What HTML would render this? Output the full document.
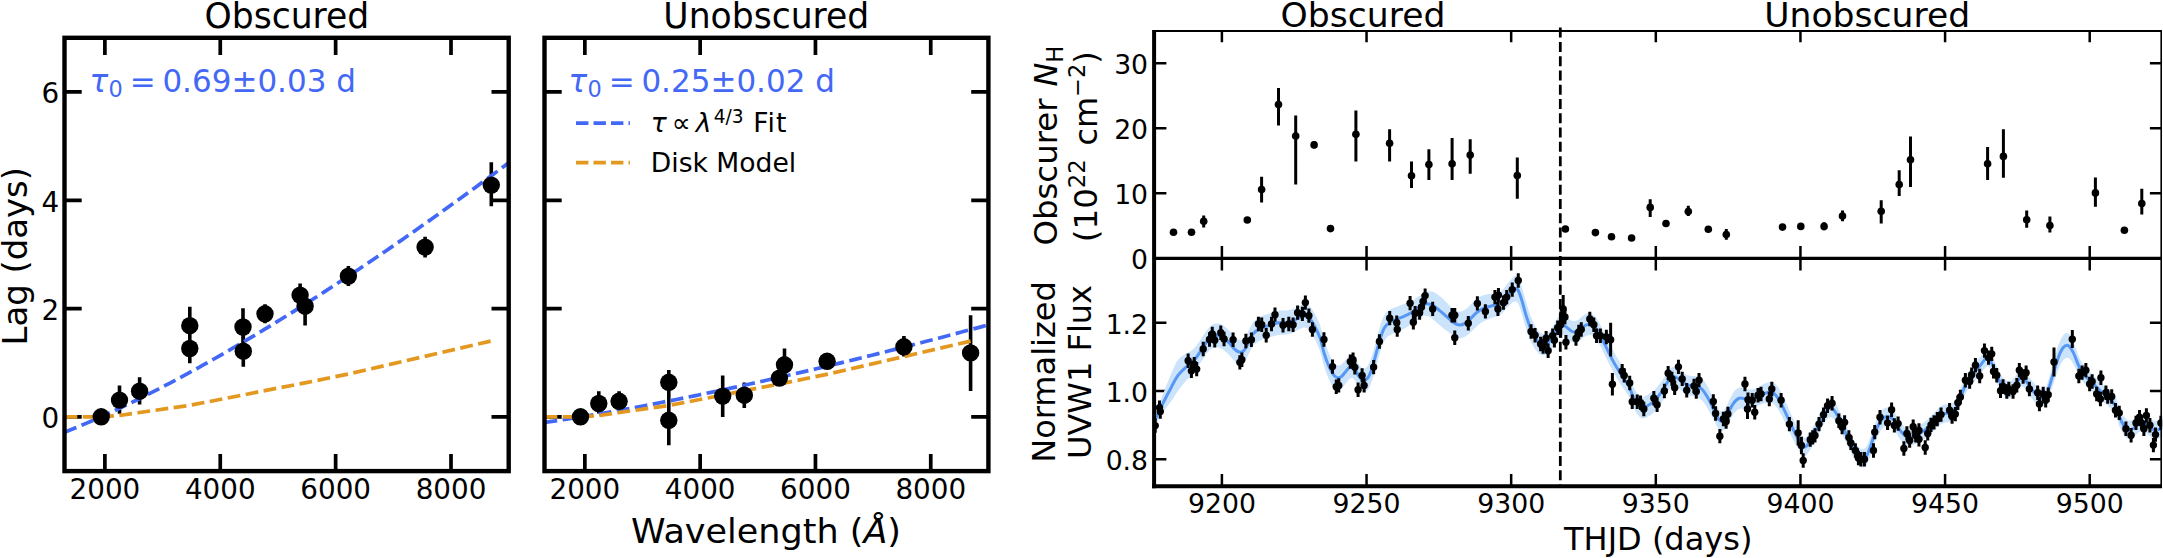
<!DOCTYPE html>
<html lang="en"><head><meta charset="utf-8"><title>Lag spectra and light curve</title>
<style>html,body{margin:0;padding:0;background:#fff}svg{display:block}text{font-family:"DejaVu Sans", "Liberation Sans", sans-serif}</style>
</head><body>
<svg width="2163" height="558" viewBox="0 0 2163 558">
<rect width="2163" height="558" fill="#fff"/>
<g>
<path d="M104.88 471.1V453.9M104.88 37.8V55M220.26 471.1V453.9M220.26 37.8V55M335.64 471.1V453.9M335.64 37.8V55M451.01 471.1V453.9M451.01 37.8V55M64.5 416.94H81.7M508.7 416.94H491.5M64.5 308.61H81.7M508.7 308.61H491.5M64.5 200.29H81.7M508.7 200.29H491.5M64.5 91.96H81.7M508.7 91.96H491.5" stroke="#000" stroke-width="3.7" fill="none"/>
<clipPath id="c64"><rect x="64.5" y="37.8" width="444.2" height="433.3"/></clipPath>
<g clip-path="url(#c64)">
<path d="M119.5 385.6V413.7M139.6 377.2V404.4M189.8 306.8V340M189.8 334V363.3M243 308.3V345M243.3 335V366.8M265 304.2V323.2M300.1 283.5V306.5M305.1 295.8V325.5M348.4 266V286M425.1 236.7V257.5M491.3 162.2V206.3" stroke="#000" stroke-width="3.6" fill="none"/>
<path d="M64.5 432.21L70.05 430L75.61 427.75L81.16 425.44L86.71 423.08L92.26 420.68L97.81 418.24L103.37 415.75L108.92 413.22L114.47 410.66L120.03 408.05L125.58 405.41L131.13 402.73L136.68 400.02L142.24 397.27L147.79 394.49L153.34 391.67L158.89 388.83L164.44 385.95L170 383.04L175.55 380.1L181.1 377.14L186.66 374.14L192.21 371.11L197.76 368.06L203.31 364.98L208.87 361.88L214.42 358.74L219.97 355.58L225.52 352.4L231.07 349.19L236.63 345.96L242.18 342.7L247.73 339.42L253.28 336.11L258.84 332.78L264.39 329.43L269.94 326.06L275.5 322.66L281.05 319.24L286.6 315.8L292.15 312.34L297.71 308.85L303.26 305.35L308.81 301.82L314.36 298.28L319.91 294.71L325.47 291.13L331.02 287.52L336.57 283.9L342.12 280.25L347.68 276.59L353.23 272.9L358.78 269.2L364.33 265.48L369.89 261.74L375.44 257.99L380.99 254.21L386.55 250.42L392.1 246.61L397.65 242.78L403.2 238.93L408.75 235.07L414.31 231.19L419.86 227.29L425.41 223.38L430.96 219.45L436.52 215.5L442.07 211.54L447.62 207.56L453.18 203.56L458.73 199.55L464.28 195.53L469.83 191.48L475.38 187.42L480.94 183.35L486.49 179.26L492.04 175.15L497.6 171.03L503.15 166.9L508.7 162.75" stroke="#4468F6" stroke-width="3.7" stroke-dasharray="12.8 5.5" fill="none"/>
<path d="M64.5 416.9L100.7 416.9L119.1 415.5L139.5 412.5L189.4 405.4L242.9 395L264.7 390.6L305 382.9L348.1 374.1L424.8 356.4L491.4 340.9" stroke="#E3981F" stroke-width="3.7" stroke-dasharray="12.8 5.5" fill="none"/>
<circle cx="101.2" cy="416.8" r="8.7"/>
<circle cx="119.5" cy="400.1" r="8.7"/>
<circle cx="139.6" cy="391.2" r="8.7"/>
<circle cx="189.8" cy="325.7" r="8.7"/>
<circle cx="189.8" cy="348.5" r="8.7"/>
<circle cx="243" cy="327" r="8.7"/>
<circle cx="243.3" cy="351.2" r="8.7"/>
<circle cx="265" cy="313.8" r="8.7"/>
<circle cx="300.1" cy="295.1" r="8.7"/>
<circle cx="305.1" cy="306.2" r="8.7"/>
<circle cx="348.4" cy="276.1" r="8.7"/>
<circle cx="425.1" cy="247.1" r="8.7"/>
<circle cx="491.3" cy="185.1" r="8.7"/>
</g>
<rect x="64.5" y="37.8" width="444.2" height="433.3" fill="none" stroke="#000" stroke-width="4.4"/>
<text transform="translate(104.88 499.3)" font-size="27.8" text-anchor="middle">2000</text>
<text transform="translate(220.26 499.3)" font-size="27.8" text-anchor="middle">4000</text>
<text transform="translate(335.64 499.3)" font-size="27.8" text-anchor="middle">6000</text>
<text transform="translate(451.01 499.3)" font-size="27.8" text-anchor="middle">8000</text>
<text transform="translate(59.2 428.24)" font-size="27.8" text-anchor="end">0</text>
<text transform="translate(59.2 319.91)" font-size="27.8" text-anchor="end">2</text>
<text transform="translate(59.2 211.59)" font-size="27.8" text-anchor="end">4</text>
<text transform="translate(59.2 103.26)" font-size="27.8" text-anchor="end">6</text>
</g>
<g>
<path d="M584.85 471.1V453.9M584.85 37.8V55M700.15 471.1V453.9M700.15 37.8V55M815.45 471.1V453.9M815.45 37.8V55M930.75 471.1V453.9M930.75 37.8V55M544.5 416.94H561.7M988.4 416.94H971.2M544.5 308.61H561.7M988.4 308.61H971.2M544.5 200.29H561.7M988.4 200.29H971.2M544.5 91.96H561.7M988.4 91.96H971.2" stroke="#000" stroke-width="3.7" fill="none"/>
<clipPath id="c544"><rect x="544.5" y="37.8" width="443.9" height="433.3"/></clipPath>
<g clip-path="url(#c544)">
<path d="M598.8 391.3V413.5M619.1 391.3V411.3M668.8 370V395M668.8 395V445.2M722.7 375.5V417.1M744.3 382.6V408M779.4 371V385M784.5 348.4V373.2M827.1 354V368.5M903.9 336V356.5M970.6 315.2V391" stroke="#000" stroke-width="3.6" fill="none"/>
<path d="M544.5 422.47L550.05 421.67L555.6 420.85L561.15 420.02L566.7 419.16L572.24 418.29L577.79 417.41L583.34 416.51L588.89 415.59L594.44 414.66L599.99 413.72L605.54 412.76L611.09 411.79L616.63 410.81L622.18 409.81L627.73 408.8L633.28 407.78L638.83 406.75L644.38 405.71L649.93 404.66L655.48 403.59L661.02 402.52L666.57 401.43L672.12 400.33L677.67 399.23L683.22 398.11L688.77 396.99L694.32 395.85L699.87 394.71L705.41 393.55L710.96 392.39L716.51 391.22L722.06 390.04L727.61 388.85L733.16 387.65L738.71 386.45L744.25 385.23L749.8 384.01L755.35 382.78L760.9 381.54L766.45 380.29L772 379.04L777.55 377.78L783.1 376.51L788.64 375.23L794.19 373.95L799.74 372.65L805.29 371.35L810.84 370.05L816.39 368.73L821.94 367.41L827.49 366.09L833.04 364.75L838.58 363.41L844.13 362.06L849.68 360.71L855.23 359.35L860.78 357.98L866.33 356.6L871.88 355.22L877.42 353.84L882.97 352.44L888.52 351.04L894.07 349.64L899.62 348.23L905.17 346.81L910.72 345.38L916.27 343.95L921.82 342.52L927.36 341.08L932.91 339.63L938.46 338.17L944.01 336.72L949.56 335.25L955.11 333.78L960.66 332.3L966.2 330.82L971.75 329.33L977.3 327.84L982.85 326.34L988.4 324.84" stroke="#4468F6" stroke-width="3.7" stroke-dasharray="12.8 5.5" fill="none"/>
<path d="M544.5 416.9L580.7 416.9L599.1 415.5L619.5 412.5L669.4 405.4L722.9 395L744.7 390.6L785 382.9L828.1 374.1L904.8 356.4L971.4 340.9" stroke="#E3981F" stroke-width="3.7" stroke-dasharray="12.8 5.5" fill="none"/>
<circle cx="580.5" cy="416.8" r="8.7"/>
<circle cx="598.8" cy="403.5" r="8.7"/>
<circle cx="619.1" cy="401.3" r="8.7"/>
<circle cx="668.8" cy="382.3" r="8.7"/>
<circle cx="668.8" cy="420.3" r="8.7"/>
<circle cx="722.7" cy="396.1" r="8.7"/>
<circle cx="744.3" cy="395.2" r="8.7"/>
<circle cx="779.4" cy="378.1" r="8.7"/>
<circle cx="784.5" cy="364.8" r="8.7"/>
<circle cx="827.1" cy="361.3" r="8.7"/>
<circle cx="903.9" cy="346.8" r="8.7"/>
<circle cx="970.6" cy="352.9" r="8.7"/>
</g>
<rect x="544.5" y="37.8" width="443.9" height="433.3" fill="none" stroke="#000" stroke-width="4.4"/>
<text transform="translate(584.85 499.3)" font-size="27.8" text-anchor="middle">2000</text>
<text transform="translate(700.15 499.3)" font-size="27.8" text-anchor="middle">4000</text>
<text transform="translate(815.45 499.3)" font-size="27.8" text-anchor="middle">6000</text>
<text transform="translate(930.75 499.3)" font-size="27.8" text-anchor="middle">8000</text>
</g>
<text transform="translate(286.9 27.6) scale(1 1.04)" font-size="34.6" text-anchor="middle">Obscured</text>
<text transform="translate(766.3 27.6) scale(1 1.04)" font-size="34.6" text-anchor="middle">Unobscured</text>
<text transform="translate(766 543.3) scale(1 0.976)" font-size="35" text-anchor="middle">Wavelength (<tspan font-style="italic">Å</tspan>)</text>
<text transform="translate(26.9 256.2) rotate(-90)" font-size="33.9" text-anchor="middle">Lag (days)</text>
<g fill="#4468F6" font-size="31.0">
<text x="89.4" y="92.2" font-style="italic">τ</text>
<text x="108.4" y="97.2" font-size="22.47">0</text>
<text x="129.8" y="92.0">=</text>
<text transform="translate(162.4 92) scale(1 1.055)">0.69±0.03 d</text>
</g>
<g fill="#4468F6" font-size="31.0">
<text x="568.4" y="92.2" font-style="italic">τ</text>
<text x="587.4" y="97.2" font-size="22.47">0</text>
<text x="608.8" y="92.0">=</text>
<text transform="translate(641.4 92) scale(1 1.055)">0.25±0.02 d</text>
</g>
<path d="M576 123.2H629.9" stroke="#4468F6" stroke-width="3.7" stroke-dasharray="12.4 5.1" fill="none"/>
<path d="M576 162.6H629.9" stroke="#E3981F" stroke-width="3.7" stroke-dasharray="12.4 5.1" fill="none"/>
<text x="650.8" y="132.4" font-size="26.6"><tspan font-style="italic">τ</tspan><tspan dx="5">∝</tspan><tspan dx="5" font-style="italic">λ</tspan><tspan dx="2.1" dy="-9.6" font-size="18.62">4/3</tspan><tspan dy="9.6" letter-spacing="1.1"> Fit</tspan></text>
<text x="650.8" y="171.6" font-size="26.6">Disk Model</text>
<g>
<path d="M1221.9 486.2V473.9M1221.9 245.9V270.5M1221.9 31V42.3M1366.54 486.2V473.9M1366.54 245.9V270.5M1366.54 31V42.3M1511.17 486.2V473.9M1511.17 245.9V270.5M1511.17 31V42.3M1655.81 486.2V473.9M1655.81 245.9V270.5M1655.81 31V42.3M1800.44 486.2V473.9M1800.44 245.9V270.5M1800.44 31V42.3M1945.08 486.2V473.9M1945.08 245.9V270.5M1945.08 31V42.3M2089.71 486.2V473.9M2089.71 245.9V270.5M2089.71 31V42.3M1154.1 193.2H1166.4M2161.2 193.2H2149.9M1154.1 128.2H1166.4M2161.2 128.2H2149.9M1154.1 63.2H1166.4M2161.2 63.2H2149.9M1154.1 459.3H1166.4M2161.2 459.3H2149.9M1154.1 391H1166.4M2161.2 391H2149.9M1154.1 322.7H1166.4M2161.2 322.7H2149.9" stroke="#000" stroke-width="2.5" fill="none"/>
<path d="M1203.7 215.5V227.4M1261.6 176.8V202.6M1278.5 88V125.6M1295.7 115.5V184.6M1314.1 141.3V148.3M1355.9 110.6V161.4M1389.6 129.3V161.4M1411.5 161.6V188M1428.9 149.3V180M1452.1 138V180M1470.2 139.3V173.8M1517.3 157.4V198.7M1650.2 199.3V217.1M1688.3 205.8V216.1M1726.3 229V239.7M1824.1 222.3V230.3M1842.5 210.6V221.3M1881.2 200.3V223.5M1899.2 170.3V196.1M1910.5 136.4V187.1M1987.6 147.1V180M2003.4 129.3V177.7M2026.7 210.6V227.7M2049.9 216.4V232.6M2095.4 177.4V206.8M2141.8 188.7V214.5" stroke="#000" stroke-width="3" fill="none"/>
<circle cx="1173.5" cy="232.3" r="3.8"/>
<circle cx="1191.5" cy="232.3" r="3.8"/>
<circle cx="1203.7" cy="221.3" r="3.8"/>
<circle cx="1247.3" cy="220" r="3.8"/>
<circle cx="1261.6" cy="189.5" r="3.8"/>
<circle cx="1278.5" cy="104.5" r="3.8"/>
<circle cx="1295.7" cy="136" r="3.8"/>
<circle cx="1314.1" cy="144.9" r="3.8"/>
<circle cx="1330.5" cy="228.6" r="3.8"/>
<circle cx="1355.9" cy="134.3" r="3.8"/>
<circle cx="1389.6" cy="143.2" r="3.8"/>
<circle cx="1411.5" cy="175.8" r="3.8"/>
<circle cx="1428.9" cy="164.5" r="3.8"/>
<circle cx="1452.1" cy="163.8" r="3.8"/>
<circle cx="1470.2" cy="155.1" r="3.8"/>
<circle cx="1517.3" cy="175.5" r="3.8"/>
<circle cx="1565.4" cy="229" r="3.8"/>
<circle cx="1595.4" cy="232.6" r="3.8"/>
<circle cx="1611.5" cy="236.8" r="3.8"/>
<circle cx="1631.6" cy="238" r="3.8"/>
<circle cx="1650.2" cy="207.4" r="3.8"/>
<circle cx="1666" cy="223.5" r="3.8"/>
<circle cx="1688.3" cy="211.6" r="3.8"/>
<circle cx="1708.3" cy="229.3" r="3.8"/>
<circle cx="1726.3" cy="234.5" r="3.8"/>
<circle cx="1782.5" cy="227.1" r="3.8"/>
<circle cx="1800.8" cy="226.4" r="3.8"/>
<circle cx="1824.1" cy="226.4" r="3.8"/>
<circle cx="1842.5" cy="216.1" r="3.8"/>
<circle cx="1881.2" cy="211.3" r="3.8"/>
<circle cx="1899.2" cy="184.5" r="3.8"/>
<circle cx="1910.5" cy="159.7" r="3.8"/>
<circle cx="1987.6" cy="163.8" r="3.8"/>
<circle cx="2003.4" cy="156.4" r="3.8"/>
<circle cx="2026.7" cy="219.7" r="3.8"/>
<circle cx="2049.9" cy="225.5" r="3.8"/>
<circle cx="2095.4" cy="192.9" r="3.8"/>
<circle cx="2124.4" cy="230.3" r="3.8"/>
<circle cx="2141.8" cy="203.5" r="3.8"/>
<clipPath id="clc"><rect x="1154.1" y="258.2" width="1008.1" height="228"/></clipPath>
<g clip-path="url(#clc)">
<path d="M1151 423.15L1152.69 419.25L1155 413.76L1157.3 408.21L1160 401.57L1162.33 395.63L1164.9 389.21L1167.17 383.43L1169.6 377.47L1171.67 372.51L1173.76 367.46L1175.83 363.23L1177.85 360.01L1180.17 357.59L1182.23 356.04L1184.53 354.47L1186.67 353.23L1189.26 351.88L1191.67 350.45L1194.17 348.22L1196.67 345.3L1199.17 341.74L1201.67 337.88L1204.22 333.96L1206.67 330.38L1208.8 327.71L1210.83 325.72L1212.86 324.31L1215 323.54L1217.45 323.38L1220 323.73L1222.5 324.97L1225 326.72L1227.5 328.89L1230 331.33L1232.5 334.27L1235 337.16L1237.55 339.16L1240 340.17L1242.14 340.04L1244.17 338.48L1246.2 335.18L1248.33 330.98L1250.68 326.24L1253.33 321.82L1255.31 319.78L1257.47 318.2L1260 316.82L1261.81 316.03L1263.84 315.23L1265.96 314.68L1268.05 313.98L1270 313.31L1272.2 312.66L1274.27 311.87L1276.29 311.17L1278.33 310.63L1280.46 310.43L1282.6 310.51L1284.7 310.44L1286.67 310.39L1289.01 310.03L1291.17 309.48L1293.33 308.79L1295.62 307.88L1297.9 306.74L1300 305.69L1302.6 304.38L1305 303.94L1307.5 304.73L1310 306.63L1312.5 309.78L1315 314.22L1317.55 318.9L1320 324.68L1322.14 332.38L1324.17 340.27L1326.25 346.55L1328.33 351.93L1330.42 356.7L1332.5 360.77L1334.58 363.54L1336.67 365.3L1338.75 365.68L1340.83 364.89L1342.92 362.92L1345 360.47L1347.14 357.89L1349.17 355.82L1350.89 355.02L1352.5 355.37L1354.17 357.1L1355.83 359.6L1357.45 362.55L1359.17 365.34L1361.2 367.58L1363.33 368.86L1365.47 368.31L1367.5 366.34L1369.22 363.23L1370.83 359.06L1372.5 353.78L1374.17 347.92L1375.83 341.72L1377.5 335.28L1379.17 328.96L1380.83 323.48L1382.45 319.03L1384.17 315.42L1386.04 312.74L1388.33 310.69L1390.31 309.32L1392.56 308.27L1395 307.35L1396.97 306.76L1399.06 305.87L1401.21 305.05L1403.33 304.24L1405.42 303.45L1407.5 302.66L1409.58 301.96L1411.67 300.98L1413.79 299.72L1415.94 298.2L1418.03 296.8L1420 295.59L1422.35 294.1L1424.51 292.73L1426.67 291.65L1428.89 291.29L1431.11 291.53L1433.33 292L1435.56 292.9L1437.78 294.5L1440 296.24L1442.22 298.12L1444.44 300.24L1446.67 302.58L1448.92 305.02L1451.17 307.46L1453.33 309.29L1456.3 311.01L1459.17 311.66L1462.08 311.16L1465 309.85L1467.92 307.48L1470.83 304.58L1473.7 301.48L1476.67 298.48L1478.77 297.14L1480.96 296.21L1483.33 295.23L1485.3 294.71L1487.4 294.17L1489.54 293.89L1491.67 293.61L1493.76 293.48L1495.86 293.48L1497.94 293.15L1500 292.18L1502.75 289.72L1505.45 286.48L1507.97 283.35L1510.28 280.54L1512.4 278L1514.25 276.05L1516.29 275.39L1518.01 277.06L1519.82 280.86L1521.78 286.7L1524.13 295.11L1526.8 304.53L1528.8 310.65L1530.93 316.67L1533.07 322.05L1535.21 326.09L1537.35 329.21L1539.35 331.7L1541.86 333.89L1544.37 334.28L1546.41 333.55L1548.6 332.06L1550.64 330.05L1553.23 325.92L1555.66 321.36L1558.17 316.87L1560.68 313.78L1563.11 314.23L1565.7 316.18L1567.75 317.68L1569.93 319.43L1571.98 320.7L1574.49 321.24L1577 320.57L1579 319.13L1581.13 317.14L1583.27 315.42L1585.41 314.23L1587.55 313.41L1589.55 313.21L1592.06 313.7L1594.57 315.75L1596.57 318.53L1598.71 322.08L1600.84 325.91L1602.94 329.84L1605.03 334.13L1607.12 338.43L1609.16 342.57L1611.21 346.77L1613.39 350.98L1615.81 355.16L1618.37 359.48L1620.92 363.65L1623.66 367.96L1626.39 372.05L1628.45 375.27L1629.38 377.09L1630 378.85L1632.21 384.17L1635.02 390L1637.02 393.1L1639.16 395.69L1641.3 397.22L1643.34 397.26L1645.39 396.1L1647.57 394.69L1649.99 393.3L1652.54 391.6L1655.1 389.41L1657.66 386.42L1660.21 383.01L1662.63 379.66L1664.86 376.25L1666.95 372.98L1668.91 370.27L1671.42 367.6L1673.93 366.6L1675.88 367.27L1677.97 368.78L1680.2 370.49L1682.62 372.16L1685.17 373.98L1687.73 375.3L1690.29 375.82L1692.84 375.92L1695.26 376.09L1697.45 376.39L1699.49 376.97L1701.54 378.05L1703.63 380.3L1705.72 383.24L1707.81 386.78L1709.95 391L1712.09 395.64L1714.09 400.03L1716.72 405.75L1719.11 409.89L1721.27 411.56L1723.37 410.92L1725.59 408.09L1727.89 403.56L1730.29 398.3L1732.91 393.15L1734.86 390.62L1736.96 388.68L1739.19 387.51L1741.6 387.54L1744.16 388.43L1746.72 389.15L1749.27 389.56L1751.83 389.5L1754.25 389.12L1756.43 388.27L1758.48 387.12L1760.52 385.88L1762.61 384.59L1764.71 383.5L1766.8 382.68L1768.89 382.13L1770.98 381.67L1773.07 382.11L1775.16 383.66L1777.26 386.05L1779.35 389.08L1781.44 392.99L1783.53 397.19L1785.62 401.66L1787.71 406.31L1789.81 411.23L1791.9 415.93L1794.04 420.63L1796.17 425.24L1798.17 429.35L1800.84 434.13L1803.19 437.33L1805 437.89L1806.96 436.24L1808.86 433.7L1811.05 430.28L1813.23 426.49L1815.32 422.46L1817.42 418.04L1819.51 413.71L1821.65 409.52L1823.78 405.54L1825.78 402.38L1828.37 399.43L1830.8 398.58L1833.23 400.07L1835.82 403.61L1837.82 407.26L1839.96 411.84L1842.1 416.51L1844.19 421.22L1846.28 425.97L1848.37 430.55L1850.47 434.64L1852.56 438.4L1854.65 441.73L1856.79 444.85L1858.92 447.49L1860.92 449.01L1863.57 449.3L1865.94 447.5L1867.97 443.8L1870 438.51L1872.37 431.22L1875.02 423.45L1877.02 418.7L1879.16 414.28L1881.3 410.93L1883.39 408.75L1885.48 407.63L1887.57 407.41L1889.66 407.93L1891.75 409.3L1893.85 411.36L1895.94 414.44L1898.03 418.22L1900.12 421.59L1902.21 424.33L1904.3 426.66L1906.4 428.19L1908.44 428.85L1910.49 428.8L1912.67 428.34L1915.09 427.45L1917.64 426.15L1920.2 424.67L1922.71 423.14L1925.22 421.44L1927.73 419.43L1930.24 416.87L1932.75 414.11L1935.26 411.5L1937.77 409.02L1940.28 406.69L1942.79 405.01L1945.39 404.27L1948 404.18L1950.32 403.82L1952.99 402.77L1955.34 400.32L1957.85 395.28L1960.36 389.09L1962.87 382.64L1965.38 376.54L1967.89 372.39L1970.4 368.97L1972.91 365.75L1975.42 362.65L1977.93 359.52L1980.44 356.38L1983.03 352.96L1985.46 350.26L1987.34 349.35L1989.23 350.41L1991.58 354.65L1994.25 360.54L1996.25 365.19L1998.38 370.21L2000.52 374.44L2002.66 377.32L2004.8 379.36L2006.8 380.67L2009.39 381.41L2011.82 380.59L2014.41 377.76L2016.84 374.27L2018.8 371.23L2020.6 368.99L2022.33 368.71L2024.37 370.09L2026.27 372.51L2028.46 375.77L2030.64 378.77L2032.73 381.56L2034.83 384.21L2036.92 386.41L2039.1 388L2041.29 388.82L2043.19 389.01L2045.15 388.15L2046.96 384.81L2049.31 377.21L2051.98 367.51L2054.02 359.8L2056.21 352.03L2058.25 345.42L2060.84 339.04L2063.27 335.07L2065.78 332.99L2068.29 333.28L2070.72 336.19L2073.31 341.23L2075.31 346.82L2077.45 352.89L2079.59 358.26L2081.63 361.98L2083.68 364.92L2085.86 367.67L2088.28 370.38L2090.84 372.95L2093.39 375.52L2095.9 378.08L2098.41 380.68L2100.92 383.1L2103.43 385.19L2105.94 387.03L2108.45 389.2L2111.13 391.82L2113.81 394.63L2115.98 397.58L2117.68 402.07L2119 406.58L2121.19 411.43L2123.6 415.83L2125.95 418.85L2128.3 420.6L2130.46 420.82L2132.9 419.8L2135.1 418.04L2137.56 415.82L2139.9 414.35L2142.93 414.44L2145.8 415.64L2148.71 417.85L2151.6 419.86L2154.51 420.8L2157.4 420.76L2160.56 419.22L2163 417.49L2163 436.51L2160.56 437.82L2157.4 439.04L2154.51 438.85L2151.6 437.74L2148.71 435.06L2145.8 432.56L2142.93 431.24L2139.9 431.45L2137.56 433.21L2135.1 435.82L2132.9 437.8L2130.46 439.2L2128.3 439.2L2125.95 437.66L2123.6 434.77L2121.19 430.36L2119 425.22L2117.68 420.31L2115.98 415.53L2113.81 412.36L2111.13 409.17L2108.45 406.34L2105.94 404.05L2103.43 401.99L2100.92 399.89L2098.41 397.48L2095.9 394.97L2093.39 392.41L2090.84 390.05L2088.28 387.7L2085.86 385.2L2083.68 382.75L2081.63 380.2L2079.59 377.04L2077.45 372.71L2075.31 367.68L2073.31 363.95L2070.72 359.83L2068.29 357.84L2065.78 358L2063.27 360.07L2060.84 363.88L2058.25 369.8L2056.21 375.37L2054.02 382.01L2051.98 387.87L2049.31 396.52L2046.96 403.2L2045.15 405.98L2043.19 406.53L2041.29 406.35L2039.1 405.4L2036.92 404.11L2034.83 402.13L2032.73 399.48L2030.64 396.69L2028.46 393.47L2026.27 390.21L2024.37 387.8L2022.33 386.2L2020.6 386.39L2018.8 388.24L2016.84 391.15L2014.41 394.56L2011.82 397.38L2009.39 398.13L2006.8 397.3L2004.8 395.91L2002.66 393.87L2000.52 390.99L1998.38 386.85L1996.25 381.83L1994.25 377.27L1991.58 371.39L1989.23 367.32L1987.34 366.34L1985.46 367.47L1983.03 370.26L1980.44 373.9L1977.93 377.04L1975.42 380.18L1972.91 383.2L1970.4 386.41L1967.89 389.74L1965.38 393.9L1962.87 399.88L1960.36 406.45L1957.85 412.65L1955.34 417.81L1952.99 420.39L1950.32 421.84L1948 422.32L1945.39 422.51L1942.79 423.16L1940.28 424.83L1937.77 426.96L1935.26 429.23L1932.75 431.63L1930.24 434.18L1927.73 436.35L1925.22 438.16L1922.71 439.7L1920.2 441.16L1917.64 442.65L1915.09 444.04L1912.67 445.02L1910.49 445.58L1908.44 445.72L1906.4 445.16L1904.3 443.72L1902.21 441.68L1900.12 439.22L1898.03 435.98L1895.94 432.32L1893.85 429.36L1891.75 427.43L1889.66 426.19L1887.57 425.79L1885.48 426.31L1883.39 427.61L1881.3 429.79L1879.16 433.32L1877.02 437.74L1875.02 442.37L1872.37 450.14L1870 457.44L1867.97 462.61L1865.94 465.93L1863.57 467.43L1860.92 466.93L1858.92 465.02L1856.79 462.26L1854.65 459.15L1852.56 455.7L1850.47 451.83L1848.37 447.75L1846.28 443.4L1844.19 438.66L1842.1 434.18L1839.96 429.74L1837.82 425.48L1835.82 421.97L1833.23 418.45L1830.8 416.97L1828.37 417.84L1825.78 420.69L1823.78 423.86L1821.65 427.86L1819.51 431.95L1817.42 435.99L1815.32 440.22L1813.23 444.27L1811.05 448.2L1808.86 451.93L1806.96 454.61L1805 456.4L1803.19 456.03L1800.84 453.42L1798.17 448.95L1796.17 445.52L1794.04 441.49L1791.9 437.26L1789.81 432.85L1787.71 428.38L1785.62 423.92L1783.53 419.47L1781.44 415.02L1779.35 411.4L1777.26 408.11L1775.16 405.29L1773.07 403.31L1770.98 402.45L1768.89 402.36L1766.8 402.74L1764.71 403.19L1762.61 403.92L1760.52 404.56L1758.48 405.43L1756.43 406.48L1754.25 407.35L1751.83 407.92L1749.27 408.3L1746.72 408.82L1744.16 408.78L1741.6 408.57L1739.19 408.95L1736.96 410.35L1734.86 412.43L1732.91 414.86L1730.29 419.63L1727.89 424.53L1725.59 428.16L1723.37 430.73L1721.27 431.12L1719.11 429.74L1716.72 425.79L1714.09 420.53L1712.09 416.73L1709.95 412.5L1707.81 408.68L1705.72 405.34L1703.63 402.24L1701.54 399.84L1699.49 398.22L1697.45 397.5L1695.26 396.78L1692.84 396.21L1690.29 395.85L1687.73 395.07L1685.17 393.5L1682.62 391.6L1680.2 389.84L1677.97 388.29L1675.88 386.82L1673.93 386.19L1671.42 387.23L1668.91 390.06L1666.95 393.11L1664.86 396.99L1662.63 400.74L1660.21 404.42L1657.66 408.04L1655.1 411.08L1652.54 413.49L1649.99 415.4L1647.57 416.83L1645.39 417.99L1643.34 418.61L1641.3 418.32L1639.16 416.52L1637.02 413.67L1635.02 410.48L1632.21 404.51L1630 399.04L1629.38 397.32L1628.45 395.66L1626.39 392.6L1623.66 388.67L1620.92 384.69L1618.37 380.68L1615.81 376.53L1613.39 372.26L1611.21 368.09L1609.16 363.93L1607.12 359.7L1605.03 355.45L1602.94 351.19L1600.84 347.12L1598.71 343.33L1596.57 339.81L1594.57 337.2L1592.06 335.18L1589.55 334.73L1587.55 335.26L1585.41 336.3L1583.27 337.53L1581.13 339.16L1579 341.07L1577 342.42L1574.49 343.01L1571.98 342.29L1569.93 340.77L1567.75 338.61L1565.7 336.77L1563.11 334.64L1560.68 334.15L1558.17 337.18L1555.66 341.63L1553.23 346.24L1550.64 350.51L1548.6 352.63L1546.41 354.32L1544.37 355.32L1541.86 355.36L1539.35 353.88L1537.35 352.08L1535.21 349.4L1533.07 345.97L1530.93 341.68L1528.8 336.36L1526.8 330.85L1524.13 321.92L1521.78 313.55L1519.82 307.3L1518.01 303.1L1516.29 301.47L1514.25 301.6L1512.4 302.55L1510.28 304.58L1507.97 306.85L1505.45 309.57L1502.75 312.68L1500 315.16L1497.94 316.15L1495.86 316.77L1493.76 317.35L1491.67 318.06L1489.54 318.9L1487.4 319.75L1485.3 320.46L1483.33 321.43L1480.96 322.86L1478.77 324.71L1476.67 326.52L1473.7 329.25L1470.83 332.08L1467.92 334.71L1465 336.81L1462.08 338.11L1459.17 338.34L1456.3 337.43L1453.33 335.71L1451.17 334.14L1448.92 332.45L1446.67 330.75L1444.44 329.15L1442.22 327.31L1440 325.42L1437.78 323.5L1435.56 321.61L1433.33 319.67L1431.11 317.89L1428.89 316.52L1426.67 315.68L1424.51 315.63L1422.35 316.43L1420 317.74L1418.03 319.13L1415.94 320.82L1413.79 322.47L1411.67 324.02L1409.58 325.4L1407.5 326.82L1405.42 328L1403.33 329.09L1401.21 330.07L1399.06 330.9L1396.97 331.61L1395 332.65L1392.56 333.83L1390.31 334.88L1388.33 335.98L1386.04 338.3L1384.17 341.25L1382.45 345.14L1380.83 349.86L1379.17 355.52L1377.5 361.39L1375.83 367.55L1374.17 373.75L1372.5 379.44L1370.83 384.27L1369.22 387.88L1367.5 390.33L1365.47 391.64L1363.33 391.8L1361.2 390.4L1359.17 387.99L1357.45 385.02L1355.83 382.07L1354.17 379.57L1352.5 377.96L1350.89 378L1349.17 379.18L1347.14 381.65L1345 384.53L1342.92 387.15L1340.83 389.11L1338.75 389.91L1336.67 389.7L1334.58 388.39L1332.5 385.89L1330.42 382.57L1328.33 378.07L1326.25 372.68L1324.17 366.4L1322.14 358.69L1320 350.99L1317.55 345.04L1315 339.78L1312.5 334.9L1310 330.71L1307.5 328.36L1305 327.4L1302.6 327.83L1300 328.97L1297.9 330.02L1295.62 331.33L1293.33 332.54L1291.17 333.41L1289.01 334.08L1286.67 334.61L1284.7 334.84L1282.6 334.74L1280.46 334.83L1278.33 335.04L1276.29 335.4L1274.27 335.92L1272.2 336.54L1270 337.36L1268.05 337.86L1265.96 338.38L1263.84 339.11L1261.81 339.73L1260 340.52L1257.47 341.91L1255.31 343.48L1253.33 345.52L1250.68 349.95L1248.33 354.68L1246.2 358.88L1244.17 362.18L1242.14 363.92L1240 364.5L1237.55 363.66L1235 361.84L1232.5 359.12L1230 356L1227.5 353.44L1225 351.28L1222.5 349.34L1220 347.93L1217.45 347.14L1215 347.12L1212.86 347.71L1210.83 348.95L1208.8 350.94L1206.67 353.62L1204.22 357.19L1201.67 361.12L1199.17 364.97L1196.67 368.7L1194.17 372.07L1191.67 375.22L1189.26 377.57L1186.67 380.1L1184.53 382.65L1182.23 385.4L1180.17 388.08L1177.85 391.28L1175.83 394.11L1173.76 397.38L1171.67 400.49L1169.6 403.22L1167.17 406.57L1164.9 409.73L1162.33 413.54L1160 417.03L1157.3 421.81L1155 426.24L1152.69 430.69L1151 434.05Z" fill="#CCE4FB"/>
<path d="M1151 428.6C1151.67 427.17 1153.5 423.22 1155 420C1156.5 416.78 1157.97 413.47 1160 409.3C1162.03 405.13 1165.22 398.8 1167.17 395C1169.11 391.2 1170.22 389.22 1171.67 386.5C1173.11 383.78 1174.42 380.94 1175.83 378.67C1177.25 376.39 1178.36 374.83 1180.17 372.83C1181.97 370.83 1184.75 368.33 1186.67 366.67C1188.58 365 1190 364.44 1191.67 362.83C1193.33 361.22 1195 359.22 1196.67 357C1198.33 354.78 1200 352 1201.67 349.5C1203.33 347 1205.14 344.03 1206.67 342C1208.19 339.97 1209.44 338.44 1210.83 337.33C1212.22 336.22 1213.47 335.58 1215 335.33C1216.53 335.08 1218.33 335.22 1220 335.83C1221.67 336.44 1223.33 337.69 1225 339C1226.67 340.31 1228.33 341.92 1230 343.67C1231.67 345.42 1233.33 348.06 1235 349.5C1236.67 350.94 1238.47 352.19 1240 352.33C1241.53 352.47 1242.78 351.92 1244.17 350.33C1245.56 348.75 1246.81 345.61 1248.33 342.83C1249.86 340.06 1251.39 336.03 1253.33 333.67C1255.28 331.31 1257.22 330.06 1260 328.67C1262.78 327.28 1266.94 326.31 1270 325.33C1273.06 324.36 1275.56 323.31 1278.33 322.83C1281.11 322.36 1284.17 322.86 1286.67 322.5C1289.17 322.14 1291.11 321.53 1293.33 320.67C1295.56 319.81 1298.06 318.17 1300 317.33C1301.94 316.5 1303.33 315.44 1305 315.67C1306.67 315.89 1308.33 316.78 1310 318.67C1311.67 320.56 1313.33 323.81 1315 327C1316.67 330.19 1318.47 333.44 1320 337.83C1321.53 342.22 1322.78 348.81 1324.17 353.33C1325.56 357.86 1326.94 361.67 1328.33 365C1329.72 368.33 1331.11 371.25 1332.5 373.33C1333.89 375.42 1335.28 376.89 1336.67 377.5C1338.06 378.11 1339.44 377.83 1340.83 377C1342.22 376.17 1343.61 374.08 1345 372.5C1346.39 370.92 1347.92 368.47 1349.17 367.5C1350.42 366.53 1351.39 366.11 1352.5 366.67C1353.61 367.22 1354.72 369.17 1355.83 370.83C1356.94 372.5 1357.92 375.08 1359.17 376.67C1360.42 378.25 1361.94 380.06 1363.33 380.33C1364.72 380.61 1366.25 379.78 1367.5 378.33C1368.75 376.89 1369.72 374.58 1370.83 371.67C1371.94 368.75 1373.06 364.72 1374.17 360.83C1375.28 356.94 1376.39 352.36 1377.5 348.33C1378.61 344.31 1379.72 340 1380.83 336.67C1381.94 333.33 1382.92 330.56 1384.17 328.33C1385.42 326.11 1386.53 324.72 1388.33 323.33C1390.14 321.94 1392.5 321.11 1395 320C1397.5 318.89 1400.56 317.92 1403.33 316.67C1406.11 315.42 1408.89 314.17 1411.67 312.5C1414.44 310.83 1417.5 308.14 1420 306.67C1422.5 305.19 1424.44 303.81 1426.67 303.67C1428.89 303.53 1431.11 304.64 1433.33 305.83C1435.56 307.03 1437.78 309.03 1440 310.83C1442.22 312.64 1444.44 314.72 1446.67 316.67C1448.89 318.61 1451.25 321.11 1453.33 322.5C1455.42 323.89 1457.22 324.86 1459.17 325C1461.11 325.14 1463.06 324.44 1465 323.33C1466.94 322.22 1468.89 320.14 1470.83 318.33C1472.78 316.53 1474.58 314.17 1476.67 312.5C1478.75 310.83 1480.83 309.44 1483.33 308.33C1485.83 307.22 1488.89 306.61 1491.67 305.83C1494.44 305.06 1497.28 305.46 1500 303.67C1502.72 301.88 1505.6 297.57 1507.97 295.1C1510.35 292.63 1512.57 289.66 1514.25 288.83C1515.92 287.99 1516.76 288.2 1518.01 290.08C1519.27 291.96 1520.31 295.52 1521.78 300.12C1523.24 304.72 1524.91 312.04 1526.8 317.69C1528.68 323.34 1530.98 329.82 1533.07 334.01C1535.16 338.19 1537.46 340.99 1539.35 342.79C1541.23 344.59 1542.48 345.22 1544.37 344.8C1546.25 344.38 1548.76 342.5 1550.64 340.28C1552.53 338.06 1553.99 334.22 1555.66 331.5C1557.34 328.78 1559.01 324.8 1560.68 323.97C1562.36 323.13 1563.82 325.22 1565.7 326.48C1567.59 327.73 1570.1 330.66 1571.98 331.5C1573.86 332.33 1575.12 332.33 1577 331.5C1578.88 330.66 1581.18 327.73 1583.27 326.48C1585.36 325.22 1587.67 323.97 1589.55 323.97C1591.43 323.97 1592.69 324.38 1594.57 326.48C1596.45 328.57 1598.75 332.75 1600.84 336.52C1602.94 340.28 1605.03 344.88 1607.12 349.07C1609.21 353.25 1611.09 357.43 1613.39 361.62C1615.69 365.8 1618.41 370.19 1620.92 374.17C1623.43 378.14 1626.94 383 1628.45 385.46C1629.97 387.93 1628.91 386.48 1630 388.95C1631.09 391.41 1633.14 397.1 1635.02 400.24C1636.9 403.38 1639.2 406.85 1641.3 407.77C1643.39 408.69 1645.27 407.02 1647.57 405.76C1649.87 404.51 1652.59 402.83 1655.1 400.24C1657.61 397.65 1660.33 393.55 1662.63 390.2C1664.93 386.85 1667.02 382.46 1668.91 380.16C1670.79 377.86 1672.04 376.4 1673.93 376.4C1675.81 376.4 1677.9 378.7 1680.2 380.16C1682.5 381.62 1685.22 384.13 1687.73 385.18C1690.24 386.23 1692.96 385.81 1695.26 386.44C1697.56 387.06 1699.44 387.06 1701.54 388.95C1703.63 390.83 1705.72 394.18 1707.81 397.73C1709.9 401.29 1712.2 406.6 1714.09 410.28C1715.97 413.96 1717.56 418.06 1719.11 419.82C1720.65 421.58 1721.91 421.79 1723.37 420.82C1724.84 419.86 1726.3 416.85 1727.89 414.05C1729.48 411.24 1731.03 406.64 1732.91 404.01C1734.79 401.37 1736.89 399.07 1739.19 398.23C1741.49 397.4 1744.21 398.99 1746.72 398.99C1749.23 398.99 1751.95 398.86 1754.25 398.23C1756.55 397.61 1758.43 396.14 1760.52 395.22C1762.61 394.3 1764.71 393.13 1766.8 392.71C1768.89 392.29 1770.98 391.46 1773.07 392.71C1775.16 393.97 1777.26 396.89 1779.35 400.24C1781.44 403.59 1783.53 408.4 1785.62 412.79C1787.71 417.18 1789.81 422.2 1791.9 426.6C1793.99 430.99 1796.29 435.8 1798.17 439.15C1800.06 442.49 1801.73 445.63 1803.19 446.68C1804.66 447.72 1805.28 447.3 1806.96 445.42C1808.63 443.54 1811.14 439.15 1813.23 435.38C1815.32 431.62 1817.42 426.81 1819.51 422.83C1821.6 418.86 1823.9 414.05 1825.78 411.54C1827.67 409.03 1829.13 407.56 1830.8 407.77C1832.48 407.98 1833.94 409.86 1835.82 412.79C1837.71 415.72 1840.01 420.95 1842.1 425.34C1844.19 429.73 1846.28 434.96 1848.37 439.15C1850.47 443.33 1852.56 447.3 1854.65 450.44C1856.74 453.58 1859.04 456.93 1860.92 457.97C1862.81 459.02 1864.43 458.38 1865.94 456.72C1867.46 455.05 1868.49 451.94 1870 447.97C1871.51 444 1873.14 437.51 1875.02 432.91C1876.9 428.31 1879.2 423.08 1881.3 420.36C1883.39 417.64 1885.48 416.6 1887.57 416.6C1889.66 416.6 1891.75 418.06 1893.85 420.36C1895.94 422.66 1898.03 427.68 1900.12 430.4C1902.21 433.12 1904.3 435.63 1906.4 436.68C1908.49 437.72 1910.37 437.3 1912.67 436.68C1914.97 436.05 1917.69 434.38 1920.2 432.91C1922.71 431.45 1925.22 429.98 1927.73 427.89C1930.24 425.8 1932.75 422.66 1935.26 420.36C1937.77 418.06 1940.28 415.34 1942.79 414.09C1945.3 412.83 1948.23 413.67 1950.32 412.83C1952.41 411.99 1953.67 411.58 1955.34 409.07C1957.01 406.56 1958.69 401.75 1960.36 397.77C1962.03 393.8 1963.71 388.57 1965.38 385.22C1967.05 381.87 1968.73 379.99 1970.4 377.69C1972.07 375.39 1973.75 373.51 1975.42 371.42C1977.1 369.32 1978.77 367.23 1980.44 365.14C1982.12 363.05 1984 359.91 1985.46 358.87C1986.93 357.82 1987.76 357.19 1989.23 358.87C1990.69 360.54 1992.36 364.93 1994.25 368.91C1996.13 372.88 1998.43 379.36 2000.52 382.71C2002.61 386.06 2004.91 387.94 2006.8 388.99C2008.68 390.03 2010.14 390.03 2011.82 388.99C2013.49 387.94 2015.37 384.59 2016.84 382.71C2018.3 380.83 2019.35 378.32 2020.6 377.69C2021.86 377.06 2022.69 377.27 2024.37 378.95C2026.04 380.62 2028.55 385.01 2030.64 387.73C2032.73 390.45 2034.83 393.59 2036.92 395.26C2039.01 396.93 2041.52 397.98 2043.19 397.77C2044.87 397.56 2045.49 397.35 2046.96 394.01C2048.42 390.66 2050.1 383.76 2051.98 377.69C2053.86 371.62 2056.37 362.63 2058.25 357.61C2060.14 352.59 2061.6 349.58 2063.27 347.57C2064.95 345.56 2066.62 344.73 2068.29 345.56C2069.97 346.4 2071.43 348.91 2073.31 352.59C2075.2 356.27 2077.5 363.68 2079.59 367.65C2081.68 371.62 2083.56 373.72 2085.86 376.44C2088.16 379.15 2090.88 381.46 2093.39 383.97C2095.9 386.48 2098.41 389.2 2100.92 391.5C2103.43 393.8 2105.94 395.26 2108.45 397.77C2110.96 400.28 2114.23 403.53 2115.98 406.56C2117.74 409.58 2117.73 412.78 2119 415.9C2120.27 419.02 2122.05 422.97 2123.6 425.3C2125.15 427.63 2126.75 429.32 2128.3 429.9C2129.85 430.48 2130.97 429.97 2132.9 428.8C2134.83 427.63 2137.75 423.68 2139.9 422.9C2142.05 422.12 2143.85 423.12 2145.8 424.1C2147.75 425.08 2149.67 427.83 2151.6 428.8C2153.53 429.77 2155.5 430.2 2157.4 429.9C2159.3 429.6 2162.07 427.48 2163 427" stroke="#5798F6" stroke-width="3" fill="none" stroke-linejoin="round"/>
<path d="M1155.2 418.4V432.8M1159.5 400.4V414.8M1160.3 404.4V418.8M1188.15 353.62V368.02M1191.42 363.66V378.06M1194.18 356.89V371.29M1196.69 361.91V376.31M1203.21 341.83V356.23M1209.49 332.29V346.69M1212.25 326.77V341.17M1214.76 333.04V347.44M1220.78 325.51V339.91M1224.05 331.79V346.19M1233.08 332.54V346.94M1239.86 355.13V369.53M1241.87 352.62V367.02M1245.88 333.79V348.19M1251.41 332.54V346.94M1258.43 316.73V331.13M1261.7 317.48V331.88M1266.21 328.02V342.42M1271.49 316.73V331.13M1275 307.44V321.84M1283.03 317.98V332.38M1288.81 316.73V331.13M1293.07 317.48V331.88M1297.59 305.43V319.83M1302.36 306.69V321.09M1305.37 295.39V309.79M1308.89 308.44V322.84M1312.4 322.25V336.65M1323.95 332.29V346.69M1332.48 359.4V373.8M1336.24 379.48V393.88M1338.76 378.22V392.62M1350.3 354.38V368.78M1353.06 352.62V367.02M1354.82 360.15V374.55M1358.08 382.49V396.89M1362.1 368.18V382.58M1364.11 378.22V392.62M1373.64 359.9V374.3M1379.42 334.3V348.7M1389.71 310.95V325.35M1396.74 315.47V329.87M1397.24 322.25V336.65M1410.08 295.93V310.33M1413.34 315.01V329.41M1415.1 305.97V320.37M1419.62 305.47V319.87M1421.38 299.95V314.35M1423.13 294.18V308.58M1425.14 288.4V302.8M1432.67 301.71V316.11M1452 307.98V322.38M1454.76 307.98V322.38M1454.76 330.57V344.97M1468.31 316.01V330.41M1477.35 296.18V310.58M1485.38 304.22V318.62M1494.92 289.91V304.31M1498.43 287.9V302.3M1497.93 301.71V316.11M1503.45 295.43V309.83M1506.72 289.91V304.31M1512.24 282.38V296.78M1518.26 273.34V287.74M1531.06 324.3V338.7M1535.08 328.06V342.46M1540.6 336.85V351.25M1543.11 339.36V353.76M1546.12 331.07V345.47M1548.13 343.62V358.02M1552.65 328.56V342.96M1554.41 333.08V347.48M1557.67 320.53V334.93M1560.68 311.42V337.77M1563.19 295.1V322.71M1564.95 309.74V324.14M1565.95 335.09V349.49M1575.99 331.32V345.72M1578.76 324.8V339.2M1581.27 322.29V336.69M1589.8 311.75V326.15M1593.82 317.52V331.92M1596.58 328.56V342.96M1600.34 328.56V342.96M1606.37 329.82V344.22M1610.63 322.71V356.6M1612.39 372.91V395.5M1622.18 363.95V378.35M1624.19 368.22V382.62M1629.71 375.75V390.15M1632.22 394.58V408.98M1637.24 394.58V408.98M1640.54 395.55V409.95M1643.81 401.83V416.23M1653.85 391.03V405.43M1657.11 397.56V411.96M1664.39 383.75V398.15M1668.15 365.93V380.33M1671.92 371.71V386.11M1674.68 380.49V394.89M1678.44 359.66V374.06M1682.21 371.71V386.11M1686.73 383V397.4M1694.01 378.73V393.13M1696.27 384.26V398.66M1699.03 372.96V387.36M1713.33 394.3V408.7M1715.59 406.34V420.74M1719.86 428.93V443.33M1723.37 411.87V426.27M1726.13 414.38V428.78M1727.89 406.85V421.25M1744.96 376.73V391.13M1747.97 392.54V406.94M1747.47 398.99V419.07M1752.24 393.04V407.44M1754.75 405.09V419.49M1758.01 388.02V402.42M1761.02 386.77V401.17M1769.31 391.79V406.19M1771.82 381.75V396.15M1781.1 393.04V407.44M1789.39 416.89V431.29M1798.17 420.32V445.42M1801.44 436.64V454.21M1803.19 453.28V467.68M1810.22 432.45V446.85M1812.73 430.19V444.59M1814.99 428.18V442.58M1819.01 416.89V431.29M1823.52 407.6V422M1827.54 398.56V412.96M1832.06 396.05V410.45M1838.84 413.62V428.02M1842.1 419.9V434.3M1844.61 415.13V429.53M1848.88 430.19V444.59M1850.88 435.71V450.11M1855.4 443.24V457.64M1858.41 450.77V465.17M1860.92 452.03V466.43M1864.44 452.03V466.43M1873.47 443.24V457.64M1874.73 424.92V439.32M1880 410.11V424.51M1887.57 415.67V430.07M1891.59 402.62V417.02M1894.35 418.18V432.58M1898.11 416.42V430.82M1903.89 441.27V455.67M1906.9 426.21V440.61M1909.66 433.24V447.64M1913.17 419.44V433.84M1915.68 428.22V442.62M1918.95 423.2V437.6M1918.95 431.99V446.39M1925.22 440.27V454.67M1927.73 426.21V440.61M1930.99 417.68V432.08M1934.01 415.17V429.57M1937.27 411.91V426.31M1941.03 407.39V421.79M1949.57 403.12V417.52M1952.08 409.4V423.8M1955.34 406.89V421.29M1957.85 395.59V409.99M1960.36 389.82V404.22M1965.38 373V387.4M1969.65 374.26V388.66M1971.66 367.48V381.88M1975.42 357.94V372.34M1979.69 368.73V383.13M1984.46 343.38V357.78M1988.47 350.41V364.81M1991.74 346.65V361.05M1993.49 364.22V378.62M1996.76 367.98V382.38M2000.52 383.54V397.94M2003.03 379.28V393.68M2006.8 384.3V398.7M2008.81 381.79V396.19M2013.07 384.3V398.7M2016.84 378.02V392.42M2019.35 362.96V377.36M2023.11 369.24V383.64M2026.12 365.47V379.87M2029.39 381.79V396.19M2037.67 385.55V399.95M2039.43 396.85V411.25M2043.19 386.81V401.21M2045.7 393.08V407.48M2048.21 387.56V401.96M2053.99 347.57V376.44M2072.31 330V348.07M2078.84 368.73V383.13M2082.1 365.47V379.87M2085.86 362.96V377.36M2089.63 376.77V391.17M2092.14 374.26V388.66M2096.66 386.81V401.21M2100.92 370.49V384.89M2100.42 391.83V406.23M2105.94 385.55V399.95M2107.7 389.32V403.72M2111.72 389.32V403.72M2115.48 403.12V417.52M2119.25 405.63V420.03M2125.9 421.6V436M2131.1 428.1V442.5M2136 415.7V430.1M2139.5 409.9V424.3M2141.6 415.7V430.1M2143.9 421.6V436M2146.4 408.3V422.7M2149.9 418.1V432.5M2153.4 437.9V452.3M2155.5 427.4V441.8M2160.9 415.7V430.1" stroke="#000" stroke-width="3" fill="none"/>
<circle cx="1155.2" cy="425.6" r="3.7"/>
<circle cx="1159.5" cy="407.6" r="3.7"/>
<circle cx="1160.3" cy="411.6" r="3.7"/>
<circle cx="1188.15" cy="360.82" r="3.7"/>
<circle cx="1191.42" cy="370.86" r="3.7"/>
<circle cx="1194.18" cy="364.09" r="3.7"/>
<circle cx="1196.69" cy="369.11" r="3.7"/>
<circle cx="1203.21" cy="349.03" r="3.7"/>
<circle cx="1209.49" cy="339.49" r="3.7"/>
<circle cx="1212.25" cy="333.97" r="3.7"/>
<circle cx="1214.76" cy="340.24" r="3.7"/>
<circle cx="1220.78" cy="332.71" r="3.7"/>
<circle cx="1224.05" cy="338.99" r="3.7"/>
<circle cx="1233.08" cy="339.74" r="3.7"/>
<circle cx="1239.86" cy="362.33" r="3.7"/>
<circle cx="1241.87" cy="359.82" r="3.7"/>
<circle cx="1245.88" cy="340.99" r="3.7"/>
<circle cx="1251.41" cy="339.74" r="3.7"/>
<circle cx="1258.43" cy="323.93" r="3.7"/>
<circle cx="1261.7" cy="324.68" r="3.7"/>
<circle cx="1266.21" cy="335.22" r="3.7"/>
<circle cx="1271.49" cy="323.93" r="3.7"/>
<circle cx="1275" cy="314.64" r="3.7"/>
<circle cx="1283.03" cy="325.18" r="3.7"/>
<circle cx="1288.81" cy="323.93" r="3.7"/>
<circle cx="1293.07" cy="324.68" r="3.7"/>
<circle cx="1297.59" cy="312.63" r="3.7"/>
<circle cx="1302.36" cy="313.89" r="3.7"/>
<circle cx="1305.37" cy="302.59" r="3.7"/>
<circle cx="1308.89" cy="315.64" r="3.7"/>
<circle cx="1312.4" cy="329.45" r="3.7"/>
<circle cx="1323.95" cy="339.49" r="3.7"/>
<circle cx="1332.48" cy="366.6" r="3.7"/>
<circle cx="1336.24" cy="386.68" r="3.7"/>
<circle cx="1338.76" cy="385.42" r="3.7"/>
<circle cx="1350.3" cy="361.58" r="3.7"/>
<circle cx="1353.06" cy="359.82" r="3.7"/>
<circle cx="1354.82" cy="367.35" r="3.7"/>
<circle cx="1358.08" cy="389.69" r="3.7"/>
<circle cx="1362.1" cy="375.38" r="3.7"/>
<circle cx="1364.11" cy="385.42" r="3.7"/>
<circle cx="1373.64" cy="367.1" r="3.7"/>
<circle cx="1379.42" cy="341.5" r="3.7"/>
<circle cx="1389.71" cy="318.15" r="3.7"/>
<circle cx="1396.74" cy="322.67" r="3.7"/>
<circle cx="1397.24" cy="329.45" r="3.7"/>
<circle cx="1410.08" cy="303.13" r="3.7"/>
<circle cx="1413.34" cy="322.21" r="3.7"/>
<circle cx="1415.1" cy="313.17" r="3.7"/>
<circle cx="1419.62" cy="312.67" r="3.7"/>
<circle cx="1421.38" cy="307.15" r="3.7"/>
<circle cx="1423.13" cy="301.38" r="3.7"/>
<circle cx="1425.14" cy="295.6" r="3.7"/>
<circle cx="1432.67" cy="308.91" r="3.7"/>
<circle cx="1452" cy="315.18" r="3.7"/>
<circle cx="1454.76" cy="315.18" r="3.7"/>
<circle cx="1454.76" cy="337.77" r="3.7"/>
<circle cx="1468.31" cy="323.21" r="3.7"/>
<circle cx="1477.35" cy="303.38" r="3.7"/>
<circle cx="1485.38" cy="311.42" r="3.7"/>
<circle cx="1494.92" cy="297.11" r="3.7"/>
<circle cx="1498.43" cy="295.1" r="3.7"/>
<circle cx="1497.93" cy="308.91" r="3.7"/>
<circle cx="1503.45" cy="302.63" r="3.7"/>
<circle cx="1506.72" cy="297.11" r="3.7"/>
<circle cx="1512.24" cy="289.58" r="3.7"/>
<circle cx="1518.26" cy="280.54" r="3.7"/>
<circle cx="1531.06" cy="331.5" r="3.7"/>
<circle cx="1535.08" cy="335.26" r="3.7"/>
<circle cx="1540.6" cy="344.05" r="3.7"/>
<circle cx="1543.11" cy="346.56" r="3.7"/>
<circle cx="1546.12" cy="338.27" r="3.7"/>
<circle cx="1548.13" cy="350.82" r="3.7"/>
<circle cx="1552.65" cy="335.76" r="3.7"/>
<circle cx="1554.41" cy="340.28" r="3.7"/>
<circle cx="1557.67" cy="327.73" r="3.7"/>
<circle cx="1560.68" cy="324.72" r="3.7"/>
<circle cx="1563.19" cy="308.91" r="3.7"/>
<circle cx="1564.95" cy="316.94" r="3.7"/>
<circle cx="1565.95" cy="342.29" r="3.7"/>
<circle cx="1575.99" cy="338.52" r="3.7"/>
<circle cx="1578.76" cy="332" r="3.7"/>
<circle cx="1581.27" cy="329.49" r="3.7"/>
<circle cx="1589.8" cy="318.95" r="3.7"/>
<circle cx="1593.82" cy="324.72" r="3.7"/>
<circle cx="1596.58" cy="335.76" r="3.7"/>
<circle cx="1600.34" cy="335.76" r="3.7"/>
<circle cx="1606.37" cy="337.02" r="3.7"/>
<circle cx="1610.63" cy="339.78" r="3.7"/>
<circle cx="1612.39" cy="384.21" r="3.7"/>
<circle cx="1622.18" cy="371.15" r="3.7"/>
<circle cx="1624.19" cy="375.42" r="3.7"/>
<circle cx="1629.71" cy="382.95" r="3.7"/>
<circle cx="1632.22" cy="401.78" r="3.7"/>
<circle cx="1637.24" cy="401.78" r="3.7"/>
<circle cx="1640.54" cy="402.75" r="3.7"/>
<circle cx="1643.81" cy="409.03" r="3.7"/>
<circle cx="1653.85" cy="398.23" r="3.7"/>
<circle cx="1657.11" cy="404.76" r="3.7"/>
<circle cx="1664.39" cy="390.95" r="3.7"/>
<circle cx="1668.15" cy="373.13" r="3.7"/>
<circle cx="1671.92" cy="378.91" r="3.7"/>
<circle cx="1674.68" cy="387.69" r="3.7"/>
<circle cx="1678.44" cy="366.86" r="3.7"/>
<circle cx="1682.21" cy="378.91" r="3.7"/>
<circle cx="1686.73" cy="390.2" r="3.7"/>
<circle cx="1694.01" cy="385.93" r="3.7"/>
<circle cx="1696.27" cy="391.46" r="3.7"/>
<circle cx="1699.03" cy="380.16" r="3.7"/>
<circle cx="1713.33" cy="401.5" r="3.7"/>
<circle cx="1715.59" cy="413.54" r="3.7"/>
<circle cx="1719.86" cy="436.13" r="3.7"/>
<circle cx="1723.37" cy="419.07" r="3.7"/>
<circle cx="1726.13" cy="421.58" r="3.7"/>
<circle cx="1727.89" cy="414.05" r="3.7"/>
<circle cx="1744.96" cy="383.93" r="3.7"/>
<circle cx="1747.97" cy="399.74" r="3.7"/>
<circle cx="1747.47" cy="409.03" r="3.7"/>
<circle cx="1752.24" cy="400.24" r="3.7"/>
<circle cx="1754.75" cy="412.29" r="3.7"/>
<circle cx="1758.01" cy="395.22" r="3.7"/>
<circle cx="1761.02" cy="393.97" r="3.7"/>
<circle cx="1769.31" cy="398.99" r="3.7"/>
<circle cx="1771.82" cy="388.95" r="3.7"/>
<circle cx="1781.1" cy="400.24" r="3.7"/>
<circle cx="1789.39" cy="424.09" r="3.7"/>
<circle cx="1798.17" cy="432.87" r="3.7"/>
<circle cx="1801.44" cy="445.42" r="3.7"/>
<circle cx="1803.19" cy="460.48" r="3.7"/>
<circle cx="1810.22" cy="439.65" r="3.7"/>
<circle cx="1812.73" cy="437.39" r="3.7"/>
<circle cx="1814.99" cy="435.38" r="3.7"/>
<circle cx="1819.01" cy="424.09" r="3.7"/>
<circle cx="1823.52" cy="414.8" r="3.7"/>
<circle cx="1827.54" cy="405.76" r="3.7"/>
<circle cx="1832.06" cy="403.25" r="3.7"/>
<circle cx="1838.84" cy="420.82" r="3.7"/>
<circle cx="1842.1" cy="427.1" r="3.7"/>
<circle cx="1844.61" cy="422.33" r="3.7"/>
<circle cx="1848.88" cy="437.39" r="3.7"/>
<circle cx="1850.88" cy="442.91" r="3.7"/>
<circle cx="1855.4" cy="450.44" r="3.7"/>
<circle cx="1858.41" cy="457.97" r="3.7"/>
<circle cx="1860.92" cy="459.23" r="3.7"/>
<circle cx="1864.44" cy="459.23" r="3.7"/>
<circle cx="1873.47" cy="450.44" r="3.7"/>
<circle cx="1874.73" cy="432.12" r="3.7"/>
<circle cx="1880" cy="417.31" r="3.7"/>
<circle cx="1887.57" cy="422.87" r="3.7"/>
<circle cx="1891.59" cy="409.82" r="3.7"/>
<circle cx="1894.35" cy="425.38" r="3.7"/>
<circle cx="1898.11" cy="423.62" r="3.7"/>
<circle cx="1903.89" cy="448.47" r="3.7"/>
<circle cx="1906.9" cy="433.41" r="3.7"/>
<circle cx="1909.66" cy="440.44" r="3.7"/>
<circle cx="1913.17" cy="426.64" r="3.7"/>
<circle cx="1915.68" cy="435.42" r="3.7"/>
<circle cx="1918.95" cy="430.4" r="3.7"/>
<circle cx="1918.95" cy="439.19" r="3.7"/>
<circle cx="1925.22" cy="447.47" r="3.7"/>
<circle cx="1927.73" cy="433.41" r="3.7"/>
<circle cx="1930.99" cy="424.88" r="3.7"/>
<circle cx="1934.01" cy="422.37" r="3.7"/>
<circle cx="1937.27" cy="419.11" r="3.7"/>
<circle cx="1941.03" cy="414.59" r="3.7"/>
<circle cx="1949.57" cy="410.32" r="3.7"/>
<circle cx="1952.08" cy="416.6" r="3.7"/>
<circle cx="1955.34" cy="414.09" r="3.7"/>
<circle cx="1957.85" cy="402.79" r="3.7"/>
<circle cx="1960.36" cy="397.02" r="3.7"/>
<circle cx="1965.38" cy="380.2" r="3.7"/>
<circle cx="1969.65" cy="381.46" r="3.7"/>
<circle cx="1971.66" cy="374.68" r="3.7"/>
<circle cx="1975.42" cy="365.14" r="3.7"/>
<circle cx="1979.69" cy="375.93" r="3.7"/>
<circle cx="1984.46" cy="350.58" r="3.7"/>
<circle cx="1988.47" cy="357.61" r="3.7"/>
<circle cx="1991.74" cy="353.85" r="3.7"/>
<circle cx="1993.49" cy="371.42" r="3.7"/>
<circle cx="1996.76" cy="375.18" r="3.7"/>
<circle cx="2000.52" cy="390.74" r="3.7"/>
<circle cx="2003.03" cy="386.48" r="3.7"/>
<circle cx="2006.8" cy="391.5" r="3.7"/>
<circle cx="2008.81" cy="388.99" r="3.7"/>
<circle cx="2013.07" cy="391.5" r="3.7"/>
<circle cx="2016.84" cy="385.22" r="3.7"/>
<circle cx="2019.35" cy="370.16" r="3.7"/>
<circle cx="2023.11" cy="376.44" r="3.7"/>
<circle cx="2026.12" cy="372.67" r="3.7"/>
<circle cx="2029.39" cy="388.99" r="3.7"/>
<circle cx="2037.67" cy="392.75" r="3.7"/>
<circle cx="2039.43" cy="404.05" r="3.7"/>
<circle cx="2043.19" cy="394.01" r="3.7"/>
<circle cx="2045.7" cy="400.28" r="3.7"/>
<circle cx="2048.21" cy="394.76" r="3.7"/>
<circle cx="2053.99" cy="361.88" r="3.7"/>
<circle cx="2072.31" cy="339.29" r="3.7"/>
<circle cx="2078.84" cy="375.93" r="3.7"/>
<circle cx="2082.1" cy="372.67" r="3.7"/>
<circle cx="2085.86" cy="370.16" r="3.7"/>
<circle cx="2089.63" cy="383.97" r="3.7"/>
<circle cx="2092.14" cy="381.46" r="3.7"/>
<circle cx="2096.66" cy="394.01" r="3.7"/>
<circle cx="2100.92" cy="377.69" r="3.7"/>
<circle cx="2100.42" cy="399.03" r="3.7"/>
<circle cx="2105.94" cy="392.75" r="3.7"/>
<circle cx="2107.7" cy="396.52" r="3.7"/>
<circle cx="2111.72" cy="396.52" r="3.7"/>
<circle cx="2115.48" cy="410.32" r="3.7"/>
<circle cx="2119.25" cy="412.83" r="3.7"/>
<circle cx="2125.9" cy="428.8" r="3.7"/>
<circle cx="2131.1" cy="435.3" r="3.7"/>
<circle cx="2136" cy="422.9" r="3.7"/>
<circle cx="2139.5" cy="417.1" r="3.7"/>
<circle cx="2141.6" cy="422.9" r="3.7"/>
<circle cx="2143.9" cy="428.8" r="3.7"/>
<circle cx="2146.4" cy="415.5" r="3.7"/>
<circle cx="2149.9" cy="425.3" r="3.7"/>
<circle cx="2153.4" cy="445.1" r="3.7"/>
<circle cx="2155.5" cy="434.6" r="3.7"/>
<circle cx="2160.9" cy="422.9" r="3.7"/>
</g>
<path d="M1560.3 27.62V486.2" stroke="#000" stroke-width="2.75" stroke-dasharray="10 4.28" fill="none"/>
<path d="M1154.1 29.9V488.2" stroke="#000" stroke-width="4" fill="none"/>
<path d="M1152.1 486.2H2162" stroke="#000" stroke-width="4" fill="none"/>
<path d="M1154.1 258.3H2161.2" stroke="#000" stroke-width="3.3" fill="none"/>
<path d="M1154.1 31H2162" stroke="#000" stroke-width="2.2" fill="none"/>
<path d="M2161.2 31V486.2" stroke="#000" stroke-width="1.6" fill="none"/>
<text x="1221.9" y="513.3" font-size="26.7" text-anchor="middle">9200</text>
<text x="1366.54" y="513.3" font-size="26.7" text-anchor="middle">9250</text>
<text x="1511.17" y="513.3" font-size="26.7" text-anchor="middle">9300</text>
<text x="1655.81" y="513.3" font-size="26.7" text-anchor="middle">9350</text>
<text x="1800.44" y="513.3" font-size="26.7" text-anchor="middle">9400</text>
<text x="1945.08" y="513.3" font-size="26.7" text-anchor="middle">9450</text>
<text x="2089.71" y="513.3" font-size="26.7" text-anchor="middle">9500</text>
<text x="1148.1" y="269" font-size="26.7" text-anchor="end">0</text>
<text x="1148.1" y="204" font-size="26.7" text-anchor="end">10</text>
<text x="1148.1" y="139" font-size="26.7" text-anchor="end">20</text>
<text x="1148.1" y="74" font-size="26.7" text-anchor="end">30</text>
<text x="1148.1" y="470.1" font-size="26.7" text-anchor="end">0.8</text>
<text x="1148.1" y="401.8" font-size="26.7" text-anchor="end">1.0</text>
<text x="1148.1" y="333.5" font-size="26.7" text-anchor="end">1.2</text>
<text x="1363" y="27.2" font-size="34.6" text-anchor="middle">Obscured</text>
<text x="1867.2" y="27.2" font-size="34.6" text-anchor="middle">Unobscured</text>
<text transform="translate(1658.2 549.5)" font-size="32" text-anchor="middle">THJD (days)</text>
<text transform="translate(1057 245.6) rotate(-90)" font-size="32.4">Obscurer</text>
<text transform="translate(1057 86.6) rotate(-90)" font-size="32"><tspan font-style="italic">N</tspan><tspan font-size="22.4" dy="6">H</tspan></text>
<text transform="translate(1096.6 242.2) rotate(-90)" font-size="32.5">(10<tspan font-size="22.75" dy="-11.6">22</tspan></text>
<text transform="translate(1096.6 51.3) rotate(-90)" font-size="32" text-anchor="end">cm<tspan font-size="22.4" dy="-11.6">−2</tspan><tspan dy="11.6">)</tspan></text>
<text transform="translate(1055.4 372) rotate(-90)" font-size="32" text-anchor="middle">Normalized</text>
<text transform="translate(1090.7 372) rotate(-90)" font-size="32" text-anchor="middle">UVW1 Flux</text>
</g>
</svg></body></html>
